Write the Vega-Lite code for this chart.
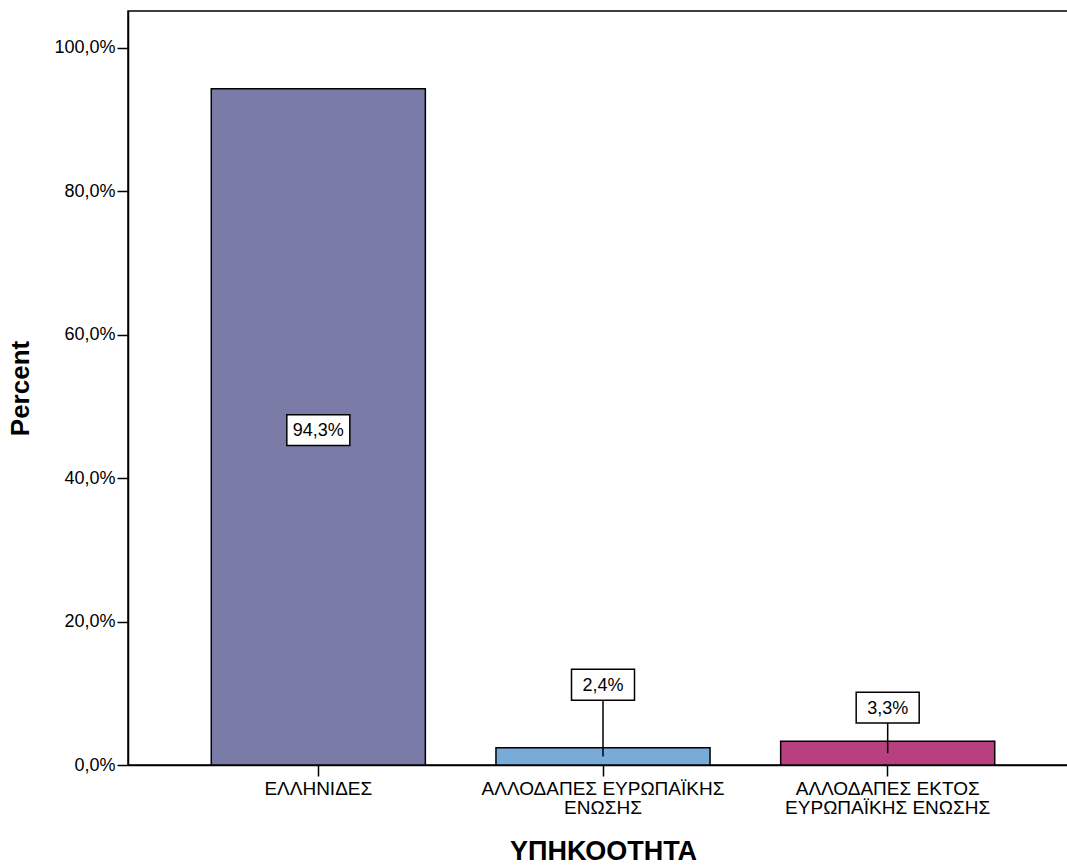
{
  "$schema": "https://vega.github.io/schema/vega-lite/v6.json",
  "width": 950,
  "height": 754,
  "autosize": {"type": "none"},
  "padding": {"left": 128, "top": 11, "right": 0, "bottom": 100},
  "background": "white",
  "config": {
    "font": "Liberation Sans",
    "view": {"stroke": "black", "strokeWidth": 1.5},
    "axis": {"grid": false, "domainColor": "black", "domainWidth": 1.5, "tickColor": "black", "tickWidth": 1.5, "labelColor": "black", "titleColor": "black"}
  },
  "data": {
    "values": [
      {"category": "ΕΛΛΗΝΙΔΕΣ", "value": 94.3, "label": "94,3%", "label_at": 46.7},
      {"category": "ΑΛΛΟΔΑΠΕΣ ΕΥΡΩΠΑΪΚΗΣ ΕΝΩΣΗΣ", "value": 2.4, "label": "2,4%", "label_at": 11.2},
      {"category": "ΑΛΛΟΔΑΠΕΣ ΕΚΤΟΣ ΕΥΡΩΠΑΪΚΗΣ ΕΝΩΣΗΣ", "value": 3.3, "label": "3,3%", "label_at": 8.0}
    ]
  },
  "transform": [{"calculate": "datum.value / 2", "as": "half"}],
  "encoding": {
    "x": {
      "field": "category",
      "type": "nominal",
      "sort": null,
      "scale": {"paddingInner": 0.248, "paddingOuter": 0.2925},
      "axis": {
        "title": "ΥΠΗΚΟΟΤΗΤΑ",
        "titleFontSize": 27,
        "titleFontWeight": "bold",
        "titlePadding": 21,
        "labelAngle": 0,
        "labelFontSize": 19,
        "labelLineHeight": 19,
        "labelPadding": 3,
        "labelLimit": 0,
        "tickSize": 11,
        "labelExpr": "datum.value == 'ΑΛΛΟΔΑΠΕΣ ΕΥΡΩΠΑΪΚΗΣ ΕΝΩΣΗΣ' ? ['ΑΛΛΟΔΑΠΕΣ ΕΥΡΩΠΑΪΚΗΣ', 'ΕΝΩΣΗΣ'] : datum.value == 'ΑΛΛΟΔΑΠΕΣ ΕΚΤΟΣ ΕΥΡΩΠΑΪΚΗΣ ΕΝΩΣΗΣ' ? ['ΑΛΛΟΔΑΠΕΣ ΕΚΤΟΣ', 'ΕΥΡΩΠΑΪΚΗΣ ΕΝΩΣΗΣ'] : datum.value"
      }
    }
  },
  "layer": [
    {
      "mark": {"type": "bar", "stroke": "black", "strokeWidth": 1.5, "opacity": 1},
      "encoding": {
        "y": {
          "field": "value",
          "type": "quantitative",
          "scale": {"domain": [0, 105.16], "nice": false},
          "axis": {
            "title": "Percent",
            "titleFontSize": 26,
            "titleFontWeight": "bold",
            "titlePadding": 20,
            "labelFontSize": 18,
            "labelPadding": 2,
            "tickSize": 11,
            "values": [0, 20, 40, 60, 80, 100],
            "labelExpr": "replace(format(datum.value, '.1f'), '.', ',') + '%'"
          }
        },
        "color": {
          "field": "category",
          "type": "nominal",
          "sort": null,
          "scale": {"range": ["#7B7BA8", "#79ABD9", "#B9407E"]},
          "legend": null
        }
      }
    },
    {
      "mark": {"type": "rule", "color": "black", "strokeWidth": 1.5},
      "encoding": {
        "y": {"field": "half", "type": "quantitative"},
        "y2": {"field": "label_at"}
      }
    },
    {
      "mark": {"type": "point", "shape": "M-1,-0.49H1V0.49H-1Z", "size": 3969, "filled": false, "fill": "white", "fillOpacity": 1, "stroke": "black", "strokeWidth": 1.5, "opacity": 1},
      "encoding": {
        "y": {"field": "label_at", "type": "quantitative"}
      }
    },
    {
      "mark": {"type": "text", "fontSize": 18, "color": "black", "baseline": "middle", "align": "center", "dy": 1},
      "encoding": {
        "y": {"field": "label_at", "type": "quantitative"},
        "text": {"field": "label"}
      }
    }
  ]
}
